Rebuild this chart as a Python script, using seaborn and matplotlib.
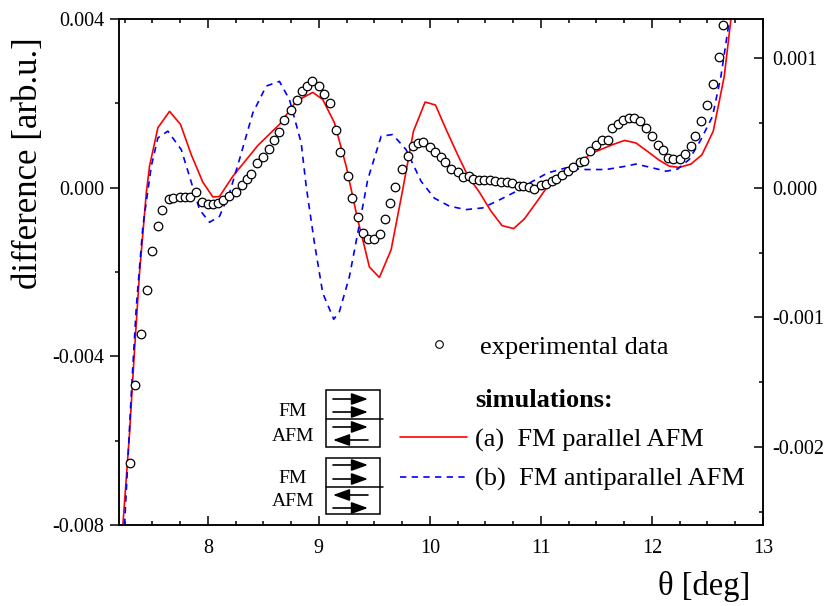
import numpy as np
import matplotlib
matplotlib.use("Agg")
import matplotlib.pyplot as plt
from matplotlib.lines import Line2D
from matplotlib.patches import Rectangle
from matplotlib.ticker import MultipleLocator, FuncFormatter
import seaborn as sns

# Measured difference signal (units of 1e-3 arb.u.) versus scattering angle
theta_exp = [7.30, 7.34, 7.40, 7.45, 7.50, 7.55, 7.59, 7.65, 7.69, 7.75,
             7.79, 7.84, 7.89, 7.95, 8.00, 8.05, 8.09, 8.14, 8.19, 8.25,
             8.31, 8.35, 8.39, 8.44, 8.50, 8.55, 8.60, 8.64, 8.69, 8.75,
             8.80, 8.85, 8.89, 8.94, 9.00, 9.05, 9.10, 9.15, 9.19, 9.26,
             9.30, 9.35, 9.40, 9.44, 9.50, 9.55, 9.60, 9.64, 9.69, 9.75,
             9.80, 9.85, 9.89, 9.94, 10.00, 10.05, 10.10, 10.14, 10.19, 10.25,
             10.30, 10.35, 10.39, 10.44, 10.49, 10.54, 10.59, 10.64, 10.69, 10.74,
             10.80, 10.84, 10.89, 10.94, 11.00, 11.05, 11.10, 11.14, 11.19, 11.24,
             11.29, 11.35, 11.39, 11.44, 11.50, 11.55, 11.60, 11.64, 11.69, 11.74,
             11.79, 11.84, 11.89, 11.95, 12.00, 12.05, 12.10, 12.14, 12.19, 12.25,
             12.30, 12.35, 12.39, 12.44, 12.50, 12.55, 12.60, 12.64]
diff_exp = [-6.52, -4.69, -3.47, -2.42, -1.51, -0.90, -0.54, -0.27, -0.24, -0.21,
            -0.21, -0.21, -0.10, -0.35, -0.38, -0.38, -0.36, -0.29, -0.19, -0.11,
            0.06, 0.21, 0.33, 0.59, 0.73, 0.92, 1.12, 1.33, 1.60, 1.84,
            2.09, 2.30, 2.41, 2.52, 2.41, 2.22, 2.01, 1.36, 0.85, 0.27,
            -0.25, -0.70, -1.08, -1.22, -1.22, -1.11, -0.74, -0.36, 0.02, 0.45,
            0.74, 0.98, 1.07, 1.08, 0.97, 0.84, 0.73, 0.60, 0.45, 0.36,
            0.25, 0.27, 0.21, 0.17, 0.17, 0.17, 0.15, 0.13, 0.13, 0.11,
            0.05, 0.05, 0.02, -0.02, 0.06, 0.08, 0.15, 0.21, 0.30, 0.40,
            0.49, 0.62, 0.63, 0.88, 1.01, 1.12, 1.14, 1.42, 1.52, 1.61,
            1.65, 1.65, 1.58, 1.42, 1.22, 1.01, 0.89, 0.71, 0.67, 0.68,
            0.81, 1.00, 1.22, 1.57, 1.95, 2.45, 3.10, 3.85]

# Simulation (a): FM parallel AFM
theta_a = [7.235, 7.295, 7.340, 7.385, 7.446, 7.475, 7.550, 7.655, 7.754, 7.851,
           7.955, 8.045, 8.105, 8.225, 8.450, 8.645, 8.796, 8.945, 9.035, 9.140,
           9.246, 9.350, 9.410, 9.455, 9.545, 9.651, 9.755, 9.852, 9.957, 10.050,
           10.146, 10.250, 10.340, 10.446, 10.551, 10.650, 10.754, 10.851, 10.956, 11.060,
           11.166, 11.346, 11.451, 11.645, 11.753, 11.856, 11.960, 12.066, 12.156, 12.246,
           12.351, 12.450, 12.552, 12.651, 12.711, 12.750]
diff_a = [-8.00, -5.82, -3.85, -2.02, -0.12, 0.51, 1.42, 1.81, 1.50, 0.78,
          0.13, -0.22, -0.21, 0.27, 1.00, 1.50, 2.05, 2.26, 2.09, 1.54,
          0.51, -0.76, -1.39, -1.88, -2.13, -1.47, -0.05, 1.34, 2.03, 1.96,
          1.38, 0.78, 0.29, -0.11, -0.56, -0.90, -0.97, -0.74, -0.36, 0.03,
          0.33, 0.59, 0.81, 1.02, 1.12, 1.06, 0.86, 0.65, 0.51, 0.48,
          0.56, 0.78, 1.34, 2.64, 3.99, 4.90]

# Simulation (b): FM antiparallel AFM
theta_b = [7.250, 7.311, 7.356, 7.415, 7.491, 7.550, 7.640, 7.761, 7.835, 7.925,
           8.015, 8.105, 8.195, 8.285, 8.405, 8.526, 8.645, 8.735, 8.841, 8.886,
           8.960, 9.035, 9.134, 9.185, 9.275, 9.350, 9.440, 9.561, 9.665, 9.786,
           9.921, 10.041, 10.176, 10.326, 10.475, 10.626, 10.776, 10.911, 11.060, 11.226,
           11.406, 11.586, 11.766, 11.856, 12.005, 12.126, 12.230, 12.336, 12.441, 12.545,
           12.621, 12.689, 12.720]
diff_b = [-8.00, -4.87, -2.82, -0.92, 0.51, 1.18, 1.34, 0.90, 0.27, -0.52,
          -0.82, -0.68, -0.13, 0.67, 1.77, 2.41, 2.52, 2.09, 1.06, 0.03,
          -1.31, -2.50, -3.12, -2.94, -2.11, -1.08, 0.19, 1.22, 1.26, 0.90,
          0.15, -0.25, -0.44, -0.52, -0.48, -0.29, -0.09, 0.13, 0.35, 0.47,
          0.43, 0.43, 0.51, 0.56, 0.47, 0.39, 0.44, 0.67, 1.14, 1.69,
          2.64, 3.83, 4.60]

x_ticks = [8, 9, 10, 11, 12, 13]
labels = ["experimental data", "simulations:",
          "(a)  FM parallel AFM", "(b)  FM antiparallel AFM"]

SCALE = 1e-3

sns.set_theme(style="ticks")
plt.rcParams["font.family"] = ["Liberation Serif", "DejaVu Serif"]
plt.rcParams.update({
    "axes.edgecolor": "black", "axes.labelcolor": "black",
    "xtick.color": "black", "ytick.color": "black", "text.color": "black",
    "axes.linewidth": 1.1,
})

fig = plt.figure(figsize=(8.3, 6.06), dpi=100)
ax = fig.add_axes([119 / 830, 1 - 525 / 606, 644 / 830, 506 / 606])

sns.lineplot(x=theta_a, y=np.array(diff_a) * SCALE, ax=ax, color="#ff0000",
             lw=1.2, sort=False, estimator=None, legend=False)
sns.lineplot(x=theta_b, y=np.array(diff_b) * SCALE, ax=ax, color="#0000ff",
             lw=1.2, sort=False, estimator=None, legend=False)
ax.lines[-1].set_dashes((3.8, 3.2))
sns.scatterplot(x=theta_exp, y=np.array(diff_exp) * SCALE, ax=ax, marker="o",
                s=38, color="white", edgecolor="black", linewidth=0.9,
                zorder=3, legend=False)

ax.set_xlim(7.2, 13)
ax.set_ylim(-0.008, 0.004)
ax.set_xticks(x_ticks)
ax.xaxis.set_minor_locator(MultipleLocator(0.25))
ax.yaxis.set_major_locator(MultipleLocator(0.004))
ax.yaxis.set_minor_locator(MultipleLocator(0.002))

fmt = FuncFormatter(lambda v, p: ("%.3f" % v).replace("-0.000", "0.000"))
ax.yaxis.set_major_formatter(fmt)

ax.tick_params(axis="x", which="both", direction="in", top=True, bottom=True,
               labelsize=14.5, pad=10, width=1.1)
ax.tick_params(axis="x", which="major", length=6.5)
ax.tick_params(axis="x", which="minor", length=3.2)
ax.tick_params(axis="y", which="both", direction="out", left=True, right=False,
               labelsize=14.5, pad=4, width=1.1)
ax.tick_params(axis="y", which="major", length=6.5)
ax.tick_params(axis="y", which="minor", length=3)

ax2 = ax.twinx()
ax2.set_ylim(-0.0026, 0.0013)
ax2.yaxis.set_major_locator(MultipleLocator(0.001))
ax2.yaxis.set_minor_locator(MultipleLocator(0.0005))
ax2.yaxis.set_major_formatter(fmt)
ax2.tick_params(axis="y", which="both", direction="in", labelsize=14.5, pad=7,
                width=1.1)
ax2.tick_params(axis="y", which="major", length=6.5)
ax2.tick_params(axis="y", which="minor", length=3)
for s in ax2.spines.values():
    s.set_linewidth(1.1)

ax.set_ylabel("difference [arb.u.]", fontsize=25)
ax.yaxis.set_label_coords(-0.115, 0.715)
ax.set_xlabel("θ [deg]", fontsize=23.5, loc="right")
ax.xaxis.set_label_coords(0.98, -0.091)

# Legend: measured points
h_exp = Line2D([], [], ls="none", marker="o", ms=5.5, mfc="white",
               mec="black", mew=0.8)
leg1 = ax.legend([h_exp], labels[:1], loc="center left",
                 bbox_to_anchor=(0.4767, 0.3518), frameon=False, fontsize=19,
                 handlelength=1.0, handletextpad=1.06, borderpad=0,
                 borderaxespad=0)
ax.add_artist(leg1)

# Legend: simulations
h_head = Line2D([], [], ls="none")
h_a = Line2D([], [], color="#ff0000", lw=1.2)
h_b = Line2D([], [], color="#0000ff", lw=1.2, dashes=(3.8, 3.2))
leg2 = ax.legend([h_head, h_a, h_b], labels[1:], loc="center left",
                 bbox_to_anchor=(0.4363, 0.168), frameon=False, fontsize=19,
                 handlelength=2.54, handletextpad=0.3, labelspacing=0.6,
                 borderpad=0, borderaxespad=0)
leg2.get_texts()[0].set_fontweight("bold")

# Spin-configuration sketches next to the simulation legend
tr = ax.transAxes
for y0, h, ydiv in [(0.1542, 0.1126, 0.2095), (0.0217, 0.1107, 0.0751)]:
    ax.add_patch(Rectangle((0.3214, y0), 0.0839, h, transform=tr, fill=False,
                           lw=1.1, ec="black", clip_on=False))
    ax.add_line(Line2D([0.3214, 0.4099], [ydiv, ydiv], transform=tr,
                       color="black", lw=1.1, clip_on=False))

arrow_rows = [(0.2490, 1), (0.2233, 1), (0.1937, 1), (0.1680, -1),
              (0.1186, 1), (0.0909, 1), (0.0593, -1), (0.0336, 1)]
xl, xr = 0.3323, 0.3866
for y, d in arrow_rows:
    start, end = (xl, xr) if d > 0 else (xr, xl)
    ax.annotate("", xy=(end, y), xytext=(start, y), xycoords="axes fraction",
                textcoords="axes fraction",
                arrowprops=dict(arrowstyle="-|>,head_length=1.0,head_width=0.36",
                                color="black", lw=1.2, shrinkA=0, shrinkB=0,
                                mutation_scale=10))

for y, t in [(0.2146, "FM"), (0.1652, "AFM"), (0.0830, "FM"), (0.0367, "AFM")]:
    ax.text(0.2702, y, t, transform=tr, ha="center", va="baseline", fontsize=14)

fig.savefig("out.png", dpi=100)
